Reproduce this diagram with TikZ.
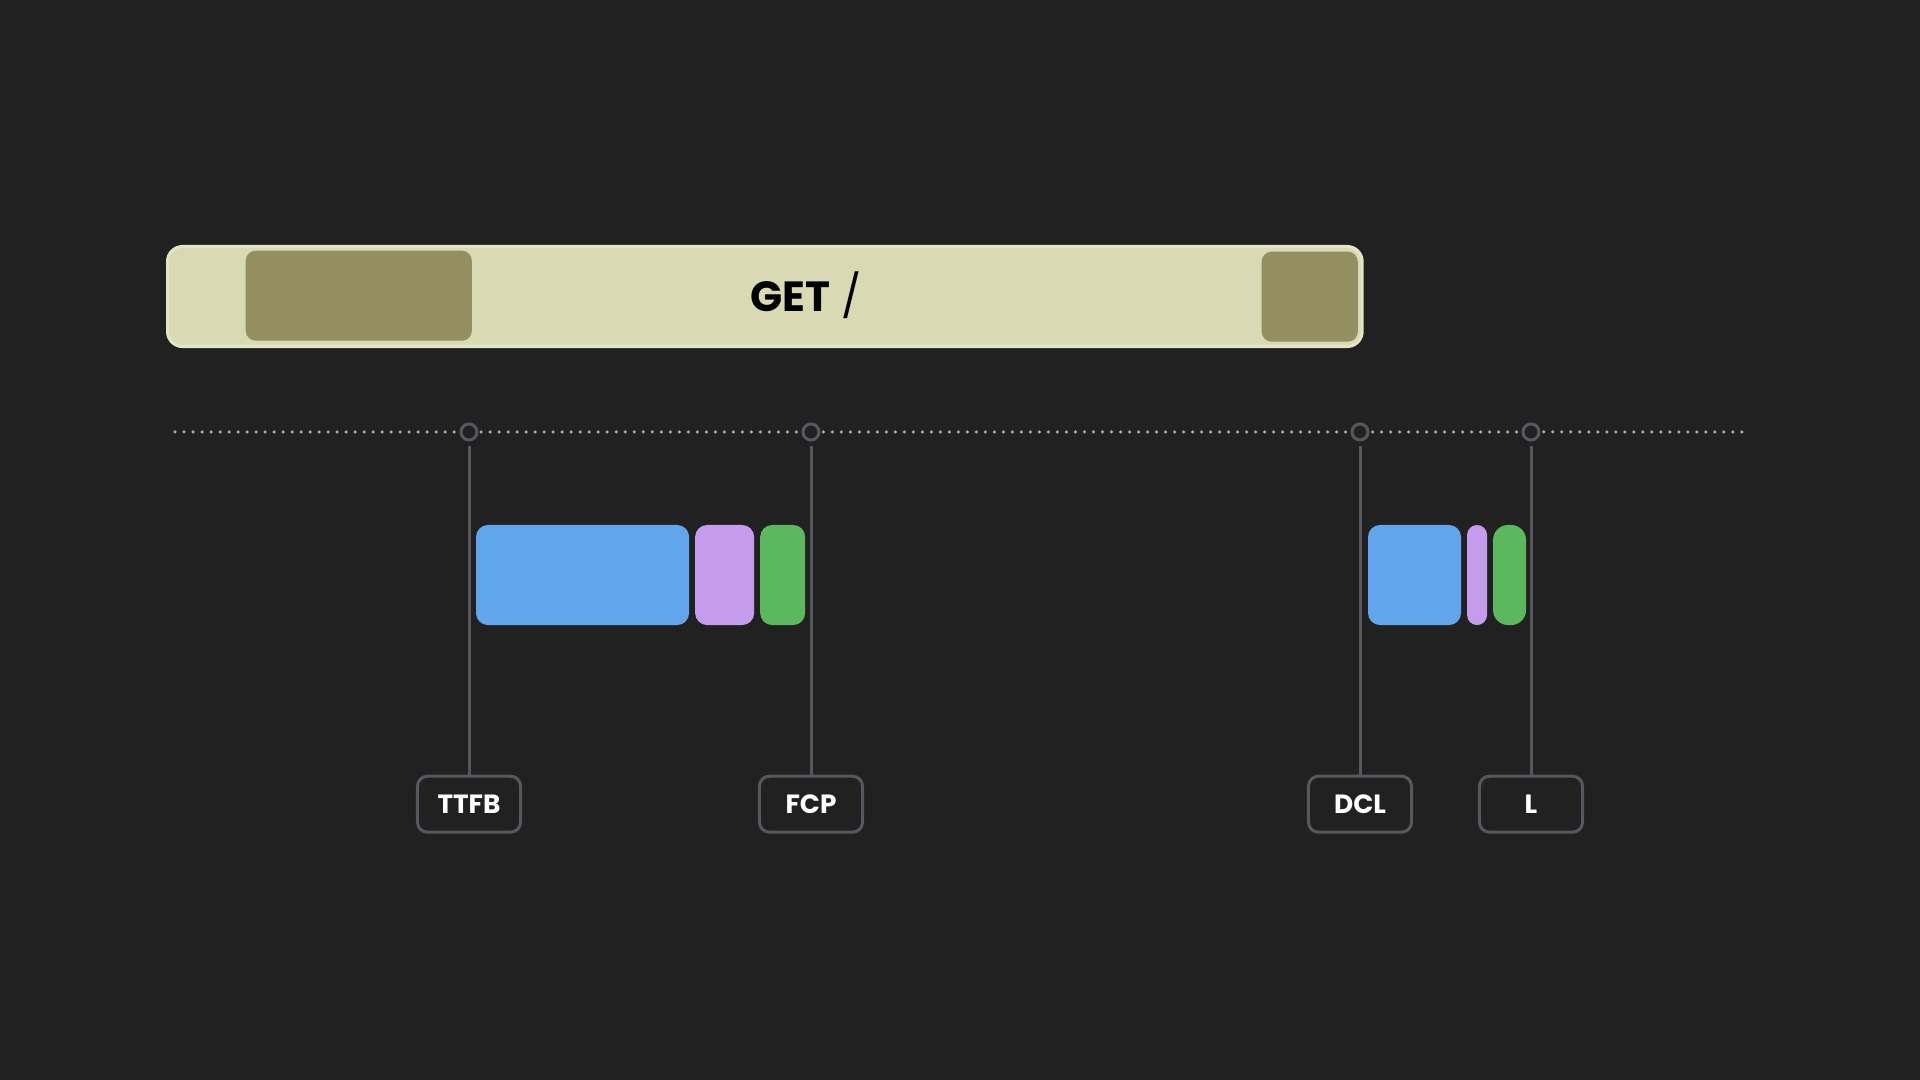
\documentclass[tikz,border=0pt]{standalone}
\usepackage{fontspec}
\setmainfont{Poppins}
\usepackage{xcolor}
\usetikzlibrary{positioning,calc}
\definecolor{bgDark}{HTML}{212121}
\definecolor{reqLight}{HTML}{D9D9B4}
\definecolor{reqEdge}{HTML}{E4E4C6}
\definecolor{reqDark}{HTML}{948F60}
\definecolor{lineGray}{HTML}{55585E}
\definecolor{dotGray}{HTML}{AAAAAA}
\definecolor{htmlBlue}{HTML}{61A5EC}
\definecolor{cssPurple}{HTML}{C59CEB}
\definecolor{jsGreen}{HTML}{5CB85C}
\tikzset{
  requestBar/.style={
    rectangle,
    rounded corners=0.15cm,
    draw=reqEdge,
    line width=0.03cm,
    fill=reqLight,
    minimum width=11.94cm,
    minimum height=1cm,
    inner sep=0pt,
    anchor=north west
  },
  waitBlock/.style={
    rectangle,
    rounded corners=0.1cm,
    fill=reqDark,
    minimum height=0.9cm,
    inner sep=0pt,
    anchor=north west
  },
  taskBlock/.style={
    rectangle,
    rounded corners=0.12cm,
    minimum height=1cm,
    inner sep=0pt,
    outer sep=0pt
  },
  markDot/.style={
    circle,
    draw=lineGray,
    line width=0.03cm,
    fill=bgDark,
    minimum size=0.16cm,
    inner sep=0pt
  },
  metricLabel/.style={
    rectangle,
    rounded corners=0.1cm,
    draw=lineGray,
    line width=0.03cm,
    fill=bgDark,
    text=white,
    font=\bfseries\fontsize{7.5}{9}\selectfont,
    minimum width=1.03cm,
    minimum height=0.56cm,
    inner sep=0pt
  },
  tickLine/.style={
    draw=lineGray,
    line width=0.03cm,
    shorten <=0.05cm
  }
}
\begin{document}
\begin{tikzpicture}[x=0.01cm,y=-0.01cm]
    \fill[bgDark] (0,0) rectangle (1920,1080);
    \useasboundingbox (0,0) rectangle (1920,1080);

    % request row
    \node[requestBar] (request) at (166,245) {};
    \node[waitBlock, minimum width=2.26cm] (waitA) at (245,250) {};
    \node[waitBlock, minimum width=0.96cm] (waitB) at (1261,251) {};
    \node[font=\fontsize{12}{14}\selectfont, text=black] (getText) at (806,295) {\textbf{GET} /};

    % timeline
    \coordinate (axisStart) at (175,432);
    \coordinate (axisEnd) at (1745,432);
    \draw[dotGray, line width=0.035cm, line cap=round, dash pattern=on 0pt off 0.09cm] (axisStart) -- (axisEnd);

    \node[markDot] (ttfbDot) at (469,432) {};
    \node[markDot] (fcpDot) at (811,432) {};
    \node[markDot] (dclDot) at (1360,432) {};
    \node[markDot] (loadDot) at (1531,432) {};

    \node[metricLabel, below=3.33cm of ttfbDot] (ttfbLabel) {TTFB};
    \node[metricLabel, below=3.33cm of fcpDot] (fcpLabel) {FCP};
    \node[metricLabel, below=3.33cm of dclDot] (dclLabel) {DCL};
    \node[metricLabel, below=3.33cm of loadDot] (loadLabel) {L};

    \draw[tickLine] (ttfbDot) -- (ttfbLabel);
    \draw[tickLine] (fcpDot) -- (fcpLabel);
    \draw[tickLine] (dclDot) -- (dclLabel);
    \draw[tickLine] (loadDot) -- (loadLabel);

    % work blocks
    \node[taskBlock, fill=htmlBlue, minimum width=2.13cm, anchor=north west] (htmlA) at (476,525) {};
    \node[taskBlock, fill=cssPurple, minimum width=0.59cm, right=0.06cm of htmlA] (cssA) {};
    \node[taskBlock, fill=jsGreen, minimum width=0.45cm, right=0.06cm of cssA] (jsA) {};

    \node[taskBlock, fill=htmlBlue, minimum width=0.93cm, anchor=north west] (htmlB) at (1368,525) {};
    \node[taskBlock, fill=cssPurple, minimum width=0.20cm, rounded corners=0.1cm, right=0.06cm of htmlB] (cssB) {};
    \node[taskBlock, fill=jsGreen, minimum width=0.33cm, rounded corners=0.15cm, right=0.06cm of cssB] (jsB) {};
\end{tikzpicture}
\end{document}
